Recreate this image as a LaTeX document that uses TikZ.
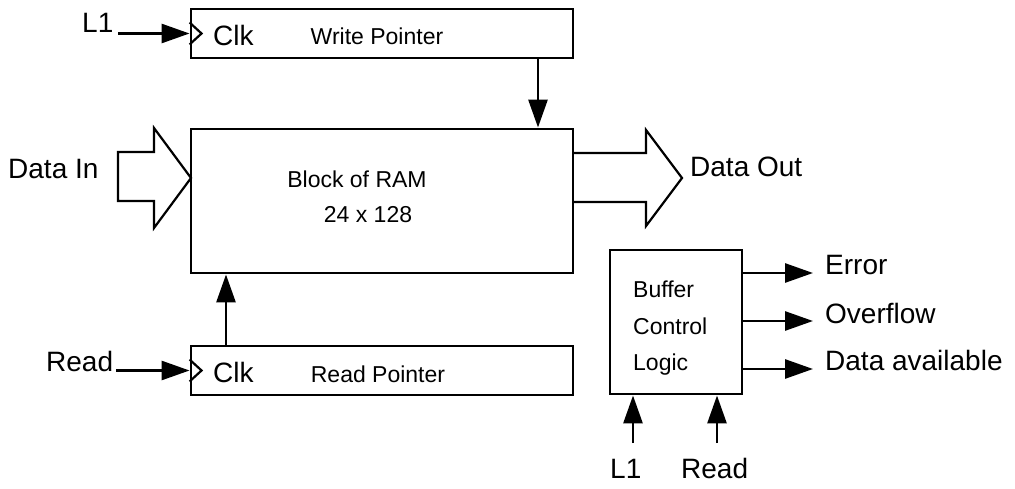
\documentclass[tikz,border=0pt]{standalone}
\usepackage{fontspec}
\setmainfont{Liberation Sans}
\usetikzlibrary{arrows.meta,calc}
\begin{document}
\begin{tikzpicture}[x=1pt,y=-1pt,
  blk/.style={draw, line width=2.9pt, inner sep=0pt},
  sig/.style={line width=2.8pt, -{Triangle[length=28pt,width=19pt]}},
  big/.style={line width=2.2pt, line join=miter},
  clktri/.style={line width=2.2pt, line join=miter},
  lbl/.style={inner sep=0pt, font=\fontsize{28}{34}\selectfont},
  small/.style={inner sep=0pt, font=\fontsize{23}{28}\selectfont}]
\useasboundingbox (0,0) rectangle (1015,489);

% blocks
\node[blk, minimum width=382pt, minimum height=49pt] (wp) at (382,33.5) {};
\node[blk, minimum width=382pt, minimum height=144pt] (ram) at (382,201) {};
\node[blk, minimum width=382pt, minimum height=49pt] (rp) at (382,370.5) {};
\node[blk, minimum width=132pt, minimum height=144pt] (bcl) at (676,322) {};

% clock triangles
\draw[clktri] ($(wp.west)+(0,-11)$) -- ($(wp.west)+(12,0)$) -- ($(wp.west)+(0,11)$);
\draw[clktri] ($(rp.west)+(0,-11)$) -- ($(rp.west)+(12,0)$) -- ($(rp.west)+(0,11)$);

% texts in blocks
\node[lbl, anchor=base west] (clkw) at (213,46) {Clk};
\node[small, anchor=base] (wptxt) at (377,45) {Write Pointer};
\node[lbl, anchor=base west] (clkr) at (213,382) {Clk};
\node[small, anchor=base] (rptxt) at (378,382) {Read Pointer};
\node[small, anchor=base] (ramt1) at (357,188) {Block of RAM};
\node[small, anchor=base] (ramt2) at (368,223) {24 x 128};
\node[small, anchor=base west] (bt1) at (633,298) {Buffer};
\node[small, anchor=base west] (bt2) at (633,334) {Control};
\node[small, anchor=base west] (bt3) at (633,370) {Logic};

% outer labels
\node[lbl, anchor=base west] (l1top) at (82,33) {L1};
\node[lbl, anchor=base west] (din) at (8,179) {Data In};
\node[lbl, anchor=base west] (dout) at (690,177) {Data Out};
\node[lbl, anchor=base west] (rdl) at (46,371) {Read};
\node[lbl, anchor=base west] (errl) at (825,275) {Error};
\node[lbl, anchor=base west] (ovfl) at (825,323) {Overflow};
\node[lbl, anchor=base west] (davl) at (825,370) {Data available};
\node[lbl, anchor=base west] (l1bot) at (610,478) {L1};
\node[lbl, anchor=base west] (rdbot) at (681,478) {Read};

% connectors
\coordinate (l1s) at (118,33.5);
\coordinate (rds) at (116,370.5);
\coordinate (wpx) at (538,0);
\coordinate (rpx) at (226,0);
\coordinate (eo) at (813,273);
\coordinate (oo) at (813,321);
\coordinate (dao) at (813,369);
\coordinate (bi1) at (633,443);
\coordinate (bi2) at (717,443);

\draw[sig] (l1s) -- (wp.west);
\draw[sig] (rds) -- (rp.west);
\draw[sig] (wp.south -| wpx) -- (ram.north -| wpx);
\draw[sig] (rp.north -| rpx) -- (ram.south -| rpx);
\draw[sig] (bcl.east |- eo) -- (eo);
\draw[sig] (bcl.east |- oo) -- (oo);
\draw[sig] (bcl.east |- dao) -- (dao);
\draw[sig] (bi1) -- (bi1 |- bcl.south);
\draw[sig] (bi2) -- (bi2 |- bcl.south);

% big data arrows
\draw[big] (191,178) -- (154,128) -- (154,152) -- (118,152) -- (118,201) -- (154,201) -- (154,228) -- cycle;
\draw[big] (573,153) -- (646,153) -- (646,130) -- (682,178) -- (646,226) -- (646,202) -- (573,202);
\end{tikzpicture}
\end{document}
